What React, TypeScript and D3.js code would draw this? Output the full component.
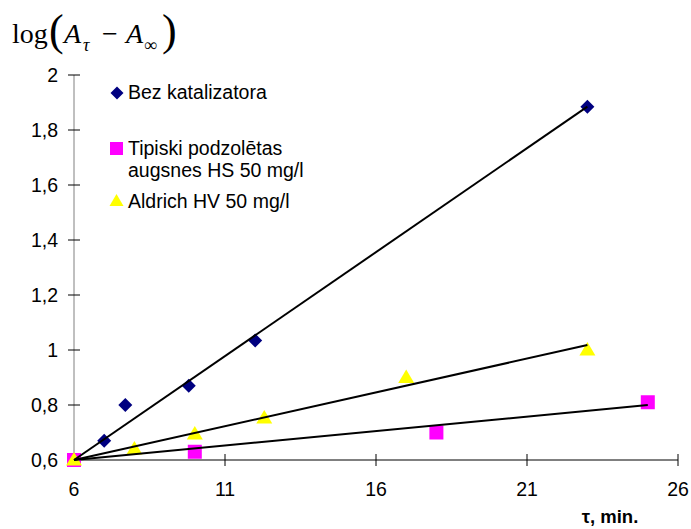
import React from "react";
import * as d3 from "d3";

const xTicks = [6, 11, 16, 21, 26];
const yTicks = [0.6, 0.8, 1, 1.2, 1.4, 1.6, 1.8, 2];

const bezX = [7, 7.7, 9.8, 12, 23];
const bezY = [0.67, 0.8, 0.87, 1.035, 1.885];
const hsX = [6, 10, 18, 25];
const hsY = [0.6, 0.63, 0.7, 0.81];
const hvX = [6, 8, 10, 12.3, 17, 23];
const hvY = [0.6, 0.64, 0.695, 0.753, 0.9, 1.0];

const trendX0 = [6, 6, 6];
const trendY0 = [0.6, 0.6, 0.6];
const trendX1 = [23, 25, 23];
const trendY1 = [1.885, 0.8, 1.018];

const BLUE = "#000080";
const PINK = "#FF00FF";
const YELLOW = "#FFFF00";

export default function App() {
  const W = 691, H = 529;
  const x = d3.scaleLinear().domain([6, 26]).range([74, 678]);
  const y = d3.scaleLinear().domain([0.6, 2]).range([460, 75]);
  const fmt = (v: number) => String(Math.round(v * 10) / 10).replace(".", ",");
  const font = "'Liberation Sans', Arial, sans-serif";

  const diamond = (cx: number, cy: number, r = 7) =>
    `M${cx},${cy - r}L${cx + r},${cy}L${cx},${cy + r}L${cx - r},${cy}Z`;
  const tri = (cx: number, cy: number, r = 8) =>
    `M${cx},${cy - r}L${cx + r},${cy + r * 0.7}L${cx - r},${cy + r * 0.7}Z`;

  return (
    <svg width={W} height={H} style={{ position: "absolute", left: 0, top: 0 }}>
      <rect width={W} height={H} fill="#fff" />
      {/* title */}
      <g fontFamily="'Liberation Serif', 'Times New Roman', serif" fill="#000">
        <text x={12} y={43} fontSize={28}>log</text>
        <text x={49} y={45} fontSize={44}>(</text>
        <text x={64} y={43} fontSize={28} fontStyle="italic">A</text>
        <text x={83} y={51} fontSize={18} fontStyle="italic">τ</text>
        <text x={102} y={43} fontSize={28}>−</text>
        <text x={126} y={43} fontSize={28} fontStyle="italic">A</text>
        <text x={144} y={51} fontSize={18}>∞</text>
        <text x={162} y={45} fontSize={44}>)</text>
      </g>
      {/* axes */}
      <line x1={x(6)} x2={x(6)} y1={y(2)} y2={y(0.6)} stroke="#808080" strokeWidth={1} />
      <line x1={x(6)} x2={x(26)} y1={y(0.6)} y2={y(0.6)} stroke="#000" strokeWidth={1} />
      {yTicks.map((t) => (
        <g key={"y" + t}>
          <line x1={x(6) - 6} x2={x(6) + 6} y1={y(t)} y2={y(t)} stroke="#000" />
          <text x={58} y={y(t)} dy="0.36em" textAnchor="end" fontFamily={font} fontSize={19.5}>
            {fmt(t)}
          </text>
        </g>
      ))}
      {xTicks.map((t) => (
        <g key={"x" + t}>
          <line x1={x(t)} x2={x(t)} y1={y(0.6) - 6} y2={y(0.6) + 6} stroke="#000" />
          <text x={x(t)} y={y(0.6) + 36} textAnchor="middle" fontFamily={font} fontSize={19.5}>
            {t}
          </text>
        </g>
      ))}
      <text x={610} y={523} textAnchor="middle" fontFamily={font} fontSize={18.5} fontWeight="bold">
        τ, min.
      </text>
      {/* markers */}
      {hsX.map((v, i) => (
        <rect key={"hs" + i} x={x(v) - 7} y={y(hsY[i]) - 7} width={14} height={14} fill={PINK} />
      ))}
      {hvX.map((v, i) => (
        <path key={"hv" + i} d={tri(x(v), y(hvY[i]))} fill={YELLOW} />
      ))}
      {bezX.map((v, i) => (
        <path key={"bz" + i} d={diamond(x(v), y(bezY[i]))} fill={BLUE} />
      ))}
      {/* trend lines */}
      {trendX0.map((v, i) => (
        <line
          key={"tr" + i}
          x1={x(v)}
          y1={y(trendY0[i])}
          x2={x(trendX1[i])}
          y2={y(trendY1[i])}
          stroke="#000"
          strokeWidth={2}
        />
      ))}
      {/* legend */}
      <g fontFamily={font} fontSize={19.5} fill="#000">
        <path d={diamond(117, 93, 6.5)} fill={BLUE} />
        <text x={128} y={99}>Bez katalizatora</text>
        <rect x={110} y={142} width={13} height={13} fill={PINK} />
        <text x={128} y={155}>Tipiski podzolētas</text>
        <text x={128} y={177}>augsnes HS 50 mg/l</text>
        <path d={tri(116.5, 201, 7)} fill={YELLOW} />
        <text x={128} y={208}>Aldrich HV 50 mg/l</text>
      </g>
    </svg>
  );
}
